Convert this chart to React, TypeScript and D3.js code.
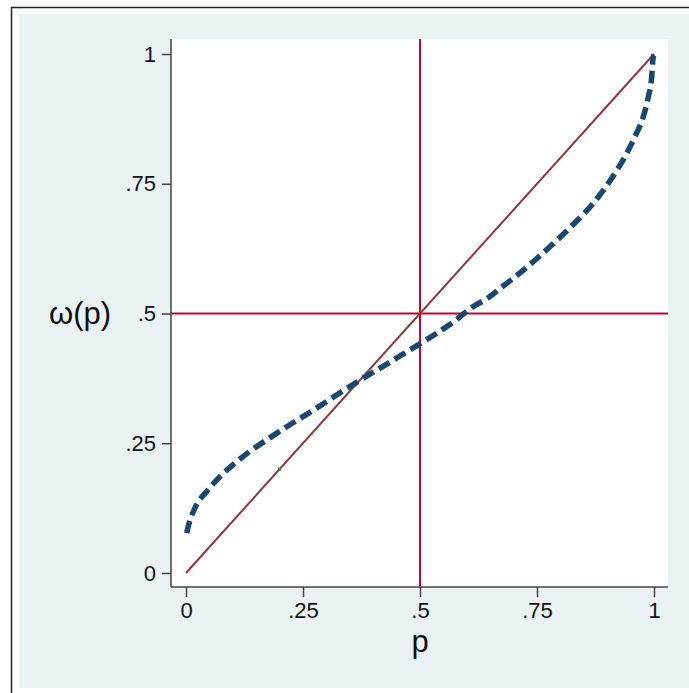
import React, { useEffect, useRef } from 'react';
import * as d3 from 'd3';

// probability p and weight w(p)
const pValues = [0.0015, 0.004, 0.019, 0.044, 0.073, 0.105, 0.139, 0.175, 0.21, 0.246, 0.283, 0.32, 0.355, 0.393, 0.43, 0.466, 0.504, 0.539, 0.575, 0.608, 0.645, 0.679, 0.712, 0.746, 0.778, 0.81, 0.84, 0.87, 0.897, 0.92, 0.942, 0.961, 0.977, 0.988, 0.995, 0.998, 1.0];
const wValues = [0.077, 0.087, 0.125, 0.157, 0.186, 0.212, 0.236, 0.258, 0.279, 0.299, 0.32, 0.342, 0.362, 0.383, 0.403, 0.423, 0.444, 0.464, 0.486, 0.51, 0.53, 0.554, 0.577, 0.603, 0.629, 0.656, 0.683, 0.712, 0.744, 0.775, 0.809, 0.844, 0.879, 0.918, 0.955, 0.992, 0.998];
const diagonal = [0, 1];
const markerPoint = [0.2, 0.2];
const refLine = 0.5;
const tickValues = [0, 0.25, 0.5, 0.75, 1];
const tickLabels = ['0', '.25', '.5', '.75', '1'];

const App = () => {
    const svgRef = useRef<SVGSVGElement>(null);

    useEffect(() => {
        const svg = d3.select(svgRef.current);
        svg.selectAll('*').remove();

        const W = 689, H = 693;
        const plot = { left: 171, right: 668, top: 39, bottom: 587 };

        const x = d3.scaleLinear().domain([0, 1]).range([186, 654]);
        const y = d3.scaleLinear().domain([0, 1]).range([573, 54]);

        // page background and outer frame
        svg.append('rect').attr('width', W).attr('height', H).attr('fill', '#ffffff');
        svg.append('rect')
            .attr('x', 19).attr('y', 14)
            .attr('width', W - 19).attr('height', 674)
            .attr('fill', '#eaf2f3');
        svg.append('path')
            .attr('d', `M11.5,${H} V7.5 H${W}`)
            .attr('fill', 'none')
            .attr('stroke', '#222')
            .attr('stroke-width', 1.5);

        // plot region
        svg.append('rect')
            .attr('x', plot.left).attr('y', plot.top)
            .attr('width', plot.right - plot.left).attr('height', plot.bottom - plot.top)
            .attr('fill', '#ffffff');

        const font = 'Liberation Sans, Arial, Helvetica, sans-serif';

        // y axis
        const yAxis = svg.append('g').attr('transform', `translate(${plot.left},0)`)
            .call(d3.axisLeft(y).tickValues(tickValues)
                .tickFormat((d, i) => tickLabels[i]).tickSize(9).tickPadding(6));
        yAxis.select('.domain').attr('d', `M0,${plot.top}V${plot.bottom}`)
            .attr('stroke', '#444').attr('stroke-width', 1.5);
        yAxis.selectAll('.tick line').attr('stroke', '#444').attr('stroke-width', 1.5);
        yAxis.selectAll('.tick text').attr('font-family', font).attr('font-size', 22)
            .attr('fill', '#111');

        // x axis
        const xAxis = svg.append('g').attr('transform', `translate(0,${plot.bottom})`)
            .call(d3.axisBottom(x).tickValues(tickValues)
                .tickFormat((d, i) => tickLabels[i]).tickSize(10).tickPadding(5));
        xAxis.select('.domain').attr('d', `M${plot.left},0H${plot.right}`)
            .attr('stroke', '#444').attr('stroke-width', 1.5);
        xAxis.selectAll('.tick line').attr('stroke', '#444').attr('stroke-width', 1.5);
        xAxis.selectAll('.tick text').attr('font-family', font).attr('font-size', 22)
            .attr('fill', '#111');

        // axis titles
        svg.append('text')
            .attr('x', 80).attr('y', 313).attr('dy', '0.35em')
            .attr('text-anchor', 'middle')
            .attr('font-family', font).attr('font-size', 31)
            .attr('fill', '#111')
            .text('ω(p)');
        svg.append('text')
            .attr('x', x(0.5)).attr('y', 652)
            .attr('text-anchor', 'middle')
            .attr('font-family', font).attr('font-size', 31)
            .attr('fill', '#111')
            .text('p');

        // reference lines
        svg.append('line')
            .attr('x1', x(refLine)).attr('x2', x(refLine))
            .attr('y1', plot.top).attr('y2', plot.bottom)
            .attr('stroke', '#c10534').attr('stroke-width', 2);
        svg.append('line')
            .attr('x1', plot.left).attr('x2', plot.right)
            .attr('y1', y(refLine)).attr('y2', y(refLine))
            .attr('stroke', '#c10534').attr('stroke-width', 2);

        // 45 degree line
        svg.append('line')
            .attr('x1', x(diagonal[0])).attr('y1', y(diagonal[0]))
            .attr('x2', x(diagonal[1])).attr('y2', y(diagonal[1]))
            .attr('stroke', '#90353b').attr('stroke-width', 2);

        // weighting curve
        const pts: [number, number][] = pValues.map((p, i) => [p, wValues[i]]);
        const line = d3.line<[number, number]>()
            .x(d => x(d[0]))
            .y(d => y(d[1]))
            .curve(d3.curveMonotoneX);
        svg.append('path')
            .datum(pts)
            .attr('d', line)
            .attr('fill', 'none')
            .attr('stroke', '#1a476f')
            .attr('stroke-width', 5.5)
            .attr('stroke-dasharray', '12.5 6');

        // single marker
        svg.append('rect')
            .attr('x', x(markerPoint[0]) - 1.5).attr('y', y(markerPoint[1]) - 1.5)
            .attr('width', 3).attr('height', 3)
            .attr('fill', '#55752f');
    }, []);

    return (
        <svg ref={svgRef} width={689} height={693}
            style={{ position: 'absolute', left: 0, top: 0 }} />
    );
};

export default App;
